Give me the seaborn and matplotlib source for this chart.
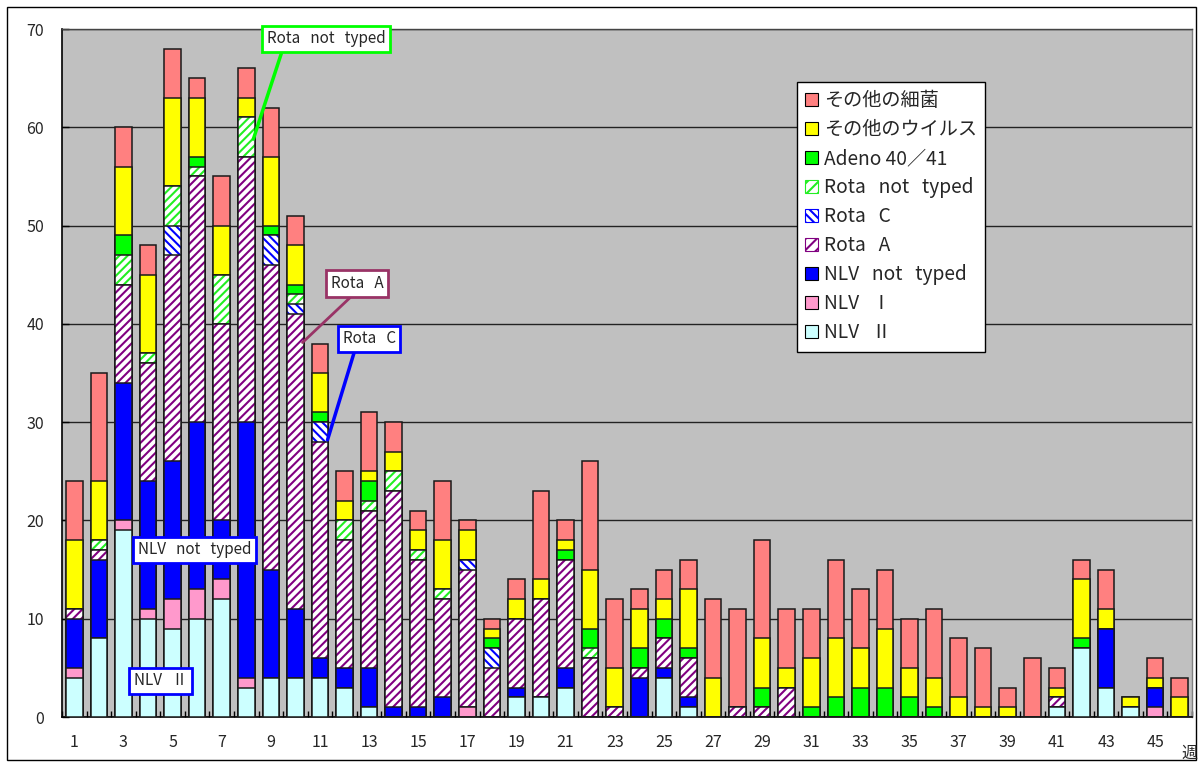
import numpy as np
import matplotlib
matplotlib.use('Agg')
import matplotlib.pyplot as plt
import seaborn as sns
from matplotlib.patches import Patch, Rectangle

# ---------------- data ----------------
weeks = list(range(1, 47))
nlv_ii      = [4, 8, 19, 10, 9, 10, 12, 3, 4, 4, 4, 3, 1, 0, 0, 0, 0, 0, 2, 2, 3, 0, 0, 0, 4, 1,
               0, 0, 0, 0, 0, 0, 0, 0, 0, 0, 0, 0, 0, 0, 1, 7, 3, 1, 0, 0]
nlv_i       = [1, 0, 1, 1, 3, 3, 2, 1, 0, 0, 0, 0, 0, 0, 0, 0, 1, 0, 0, 0, 0, 0, 0, 0, 0, 0,
               0, 0, 0, 0, 0, 0, 0, 0, 0, 0, 0, 0, 0, 0, 0, 0, 0, 0, 1, 0]
nlv_nt      = [5, 8, 14, 13, 14, 17, 6, 26, 11, 7, 2, 2, 4, 1, 1, 2, 0, 0, 1, 0, 2, 0, 0, 4, 1, 1,
               0, 0, 0, 0, 0, 0, 0, 0, 0, 0, 0, 0, 0, 0, 0, 0, 6, 0, 2, 0]
rota_a      = [1, 1, 10, 12, 21, 25, 20, 27, 31, 30, 22, 13, 16, 22, 15, 10, 14, 5, 7, 10, 11, 6, 1, 1, 3, 4,
               0, 1, 1, 3, 0, 0, 0, 0, 0, 0, 0, 0, 0, 0, 1, 0, 0, 0, 0, 0]
rota_c      = [0, 0, 0, 0, 3, 0, 0, 0, 3, 1, 2, 0, 0, 0, 0, 0, 1, 2, 0, 0, 0, 0, 0, 0, 0, 0,
               0, 0, 0, 0, 0, 0, 0, 0, 0, 0, 0, 0, 0, 0, 0, 0, 0, 0, 0, 0]
rota_nt     = [0, 1, 3, 1, 4, 1, 5, 4, 0, 1, 0, 2, 1, 2, 1, 1, 0, 0, 0, 0, 0, 1, 0, 0, 0, 0,
               0, 0, 0, 0, 0, 0, 0, 0, 0, 0, 0, 0, 0, 0, 0, 0, 0, 0, 0, 0]
adeno       = [0, 0, 2, 0, 0, 1, 0, 0, 1, 1, 1, 0, 2, 0, 0, 0, 0, 1, 0, 0, 1, 2, 0, 2, 2, 1,
               0, 0, 2, 0, 1, 2, 3, 3, 2, 1, 0, 0, 0, 0, 0, 1, 0, 0, 0, 0]
other_virus = [7, 6, 7, 8, 9, 6, 5, 2, 7, 4, 4, 2, 1, 2, 2, 5, 3, 1, 2, 2, 1, 6, 4, 4, 2, 6,
               4, 0, 5, 2, 5, 6, 4, 6, 3, 3, 2, 1, 1, 0, 1, 6, 2, 1, 1, 2]
other_bact  = [6, 11, 4, 3, 5, 2, 5, 3, 5, 3, 3, 3, 6, 3, 2, 6, 1, 1, 2, 9, 2, 11, 7, 2, 3, 3,
               8, 10, 10, 6, 5, 8, 6, 6, 5, 7, 6, 6, 2, 6, 2, 2, 4, 0, 2, 2]

series_labels = ['NLV   Ⅱ', 'NLV   Ⅰ', 'NLV   not   typed', 'Rota   A', 'Rota   C',
                 'Rota   not   typed', 'Adeno 40／41', 'その他のウイルス', 'その他の細菌']
series_values = [nlv_ii, nlv_i, nlv_nt, rota_a, rota_c, rota_nt, adeno, other_virus, other_bact]
y_ticks = [0, 10, 20, 30, 40, 50, 60, 70]

# ---------------- styles ----------------
face = ['#CCFFFF', '#FF99CC', '#0000FF', 'white', 'white', 'white', '#00FF00', '#FFFF00', '#FF8080']
hatch = [None, None, None, '////', '\\\\\\\\', '////', None, None, None]
hatch_col = [None, None, None, '#800080', '#0000FF', '#22EE22', None, None, None]
edge = '#1a1a1a'

sns.set_theme(style='white')
plt.rcParams['font.family'] = ['Noto Sans CJK JP', 'DejaVu Sans']
plt.rcParams['hatch.linewidth'] = 1.5

W, H = 1203, 767
fig = plt.figure(figsize=(W / 100, H / 100), dpi=100)
fig.patch.set_facecolor('white')
ax = fig.add_axes([62 / W, (H - 717) / H, (1192 - 62) / W, (717 - 29) / H])
ax.set_facecolor('#C0C0C0')

bw = 0.675
cums = np.cumsum(np.array(series_values, dtype=float), axis=0)
for k in range(len(series_values) - 1, -1, -1):
    if hatch[k] is None:
        sns.barplot(x=weeks, y=cums[k], color=face[k], saturation=1, width=bw,
                    errorbar=None, edgecolor=edge, linewidth=1.1, ax=ax, zorder=3)
    else:
        sns.barplot(x=weeks, y=cums[k], color=face[k], saturation=1, width=bw,
                    errorbar=None, edgecolor=hatch_col[k], linewidth=0, hatch=hatch[k],
                    ax=ax, zorder=3)
        sns.barplot(x=weeks, y=cums[k], color=edge, fill=False, width=bw,
                    errorbar=None, linewidth=1.1, ax=ax, zorder=3)

# ---------------- axes ----------------
ax.set_xlim(-0.5, len(weeks) - 0.5)
ax.set_ylim(0, 70)
ax.set_yticks(y_ticks)
ax.set_yticklabels([str(t) for t in y_ticks], fontsize=11.5)
ax.yaxis.grid(True, color='#222222', linewidth=1)
ax.xaxis.grid(False)
ax.set_axisbelow(True)
ax.tick_params(axis='y', direction='in', length=5, width=1, color='black', pad=13, left=True)
xt = list(range(0, len(weeks), 2))
ax.set_xticks(xt)
ax.set_xticklabels([str(weeks[i]) for i in xt], fontsize=11.5)
ax.set_xticks(np.arange(-0.5, len(weeks), 1.0), minor=True)
ax.tick_params(axis='x', which='major', length=0, pad=12)
ax.tick_params(axis='x', which='minor', direction='in', length=4, width=1, color='black', bottom=True)
ax.set_xlabel('')
ax.set_ylabel('')
for s in ['left', 'bottom']:
    ax.spines[s].set_color('black')
    ax.spines[s].set_linewidth(1.2)
ax.spines['top'].set_color('#444444')
ax.spines['right'].set_color('#808080')
ax.spines['top'].set_linewidth(1)
ax.spines['right'].set_linewidth(1)

fig.text(1189 / W, 1 - 753 / H, '週', fontsize=11.5, ha='center', va='center')

# outer chart border
fig.patches.append(Rectangle((7 / W, 7 / H), (1196 - 7) / W, (760 - 7) / H,
                             transform=fig.transFigure, fill=False, ec='black', lw=1))

# ---------------- legend ----------------
handles = []
for k in range(len(series_values) - 1, -1, -1):
    if hatch[k] is None:
        handles.append(Patch(facecolor=face[k], edgecolor='black', linewidth=0.8, label=series_labels[k]))
    else:
        handles.append(Patch(facecolor='white', edgecolor=hatch_col[k], hatch=hatch[k].replace('////', '///'),
                             linewidth=0.8, label=series_labels[k]))
leg = fig.legend(handles=handles, loc='upper left', bbox_to_anchor=(797 / W, 1 - 82 / H),
                 borderaxespad=0, fontsize=13.8, frameon=True, fancybox=False,
                 handlelength=0.68, handleheight=0.68, handletextpad=0.32,
                 labelspacing=0.42, borderpad=0.42)
leg.get_frame().set_edgecolor('black')
leg.get_frame().set_linewidth(1)
leg.get_frame().set_facecolor('white')
leg.get_frame().set_alpha(1)

# ---------------- annotations ----------------
def box(text, xy_text, ec, xy=None, relpos=(0.5, 0.5), lw_line=2.5):
    kw = dict(fontsize=11, ha='center', va='center', zorder=6,
              bbox=dict(boxstyle='square,pad=0.3', fc='white', ec=ec, lw=2))
    if xy is None:
        ax.text(xy_text[0], xy_text[1], text, **kw)
    else:
        ax.annotate(text, xy=xy, xytext=xy_text, xycoords='data', textcoords='data',
                    arrowprops=dict(arrowstyle='-', color=ec, lw=lw_line, relpos=relpos,
                                    shrinkA=0, shrinkB=0), **kw)

box('Rota   not   typed', (10.25, 69.0), '#00FF00', xy=(7.29, 58.8), relpos=(0.14, 0.0))
box('Rota   A', (11.51, 44.1), '#993366', xy=(9.29, 38.1), relpos=(0.48, 0.0), lw_line=2)
box('Rota   C', (12.0, 38.5), '#0000FF', xy=(10.31, 28.2), relpos=(0.25, 0.0))
box('NLV   not   typed', (4.9, 17.0), '#0000FF')
box('NLV   Ⅱ', (3.5, 3.67), '#0000FF')

fig.savefig('out.png', dpi=100, facecolor='white')
